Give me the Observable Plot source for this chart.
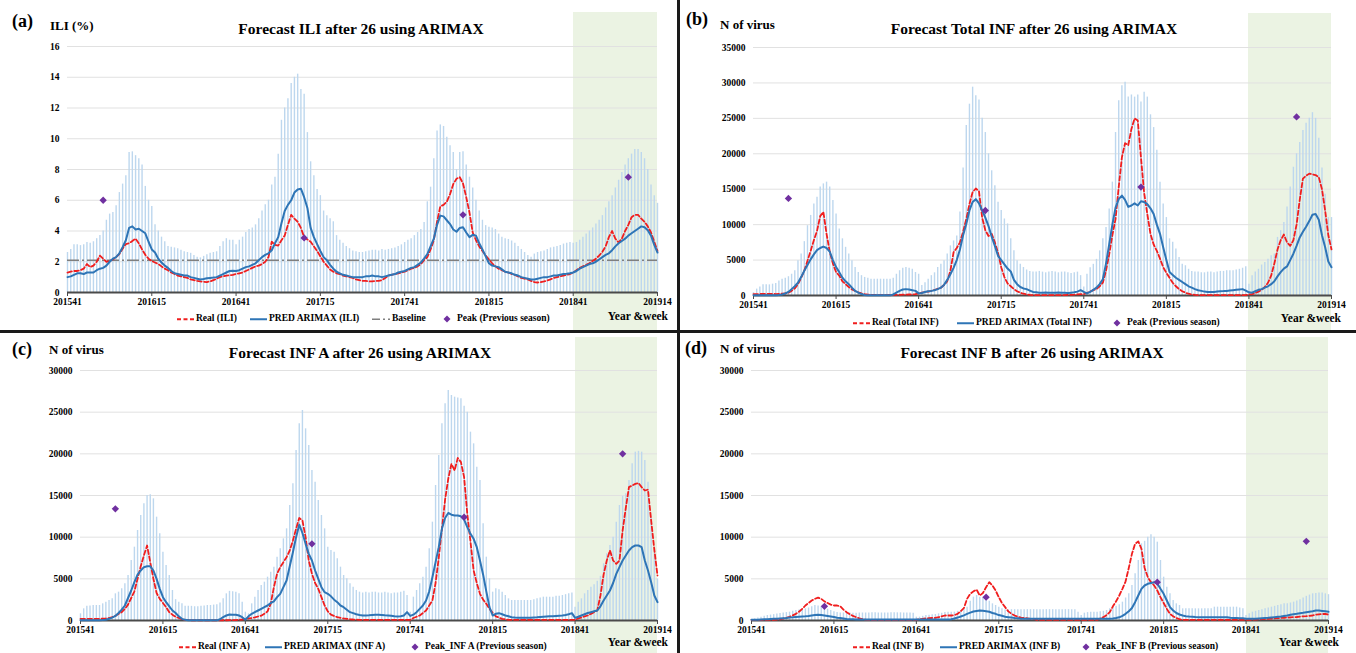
<!DOCTYPE html>
<html>
<head>
<meta charset="utf-8">
<script src="https://cdn.jsdelivr.net/npm/d3@7"></script>
<script src="https://cdn.jsdelivr.net/npm/@observablehq/plot@0.6"></script>
<style>
  body { margin: 0; background: #fff; }
  #root { position: relative; width: 1356px; height: 653px; overflow: hidden;
          font-family: "Liberation Serif", "Times New Roman", serif; font-weight: bold; color: #000; }
  .panel { position: absolute; overflow: hidden; }
  .panel svg.plotsvg { position: absolute; left: 0; top: 0; }
  .green { position: absolute; background: #ebf3e3; }
  .t { position: absolute; white-space: nowrap; line-height: 1; }
  .leg { position: absolute; display: flex; align-items: center; white-space: nowrap; line-height: 1; transform: translateY(-50%); }
  .leg svg { display: block; }
  .div-v { position: absolute; left: 677px; top: 0; width: 2.5px; height: 653px; background: #1a1a1a; }
  .div-h { position: absolute; left: 0; top: 330px; width: 1356px; height: 2.5px; background: #1a1a1a; }
</style>
</head>
<body>
<div id="root"></div>
<script>
// ---------- X axis (year & week), 183 weekly points ----------
const weekTicks = [0, 26, 52, 78, 104, 130, 156, 182];
const weekTickLabels = ["201541", "201615", "201641", "201715", "201741", "201815", "201841", "201914"];
const forecastStart = 156;   // 201841
const forecastEnd = 182;     // 201914

// ---------- (a) ILI (%) ----------
const realILI = [
1.3,1.35,1.4,1.4,1.45,1.55,1.85,1.65,1.75,2.0,
2.4,2.2,2.0,2.05,2.15,2.3,2.5,2.85,3.15,3.2,
3.35,3.5,3.2,2.8,2.45,2.2,2.05,1.95,1.85,1.7,
1.55,1.45,1.3,1.2,1.1,1.05,1.0,0.95,0.85,0.8,
0.75,0.72,0.7,0.68,0.72,0.8,0.9,1.0,1.05,1.1,
1.12,1.15,1.2,1.25,1.3,1.4,1.5,1.6,1.7,1.75,
1.85,2.0,2.3,3.3,3.1,3.05,3.4,3.7,4.4,5.05,
4.8,4.6,4.2,3.6,3.45,3.3,3.0,2.7,2.35,2.0,
1.75,1.5,1.35,1.25,1.2,1.1,1.05,1.0,0.95,0.85,
0.8,0.75,0.75,0.72,0.72,0.75,0.75,0.8,0.95,1.1,
1.15,1.2,1.25,1.3,1.35,1.45,1.55,1.6,1.7,1.85,
2.1,2.3,2.8,3.4,4.6,5.6,5.7,5.9,6.4,7.05,
7.4,7.5,7.1,6.2,5.2,3.9,3.4,3.0,2.7,2.4,
2.15,1.9,1.7,1.55,1.45,1.35,1.3,1.2,1.15,1.05,
0.95,0.9,0.85,0.75,0.68,0.65,0.68,0.72,0.78,0.85,
0.95,1.0,1.05,1.1,1.15,1.2,1.3,1.45,1.6,1.7,
1.8,1.9,2.05,2.2,2.4,2.65,3.0,3.6,4.0,3.5,
3.25,3.5,4.0,4.4,4.9,5.05,5.05,4.8,4.6,4.3,
3.9,3.3,2.7];
const predILI = [
1.0,1.05,1.15,1.25,1.25,1.2,1.3,1.3,1.3,1.45,
1.55,1.6,1.75,2.0,2.2,2.3,2.55,2.95,3.4,4.2,
4.3,4.1,4.15,4.0,3.85,3.3,2.8,2.6,2.2,1.95,
1.75,1.6,1.4,1.25,1.2,1.15,1.1,1.1,1.0,0.95,
0.9,0.85,0.88,0.92,0.95,0.97,1.0,1.1,1.2,1.3,
1.4,1.42,1.4,1.45,1.55,1.65,1.7,1.8,1.9,2.1,
2.3,2.45,2.55,2.75,3.2,3.6,4.5,5.3,5.7,6.0,
6.5,6.7,6.75,6.2,5.5,4.2,3.6,3.15,2.7,2.3,
2.1,1.8,1.55,1.35,1.25,1.15,1.1,1.05,1.0,1.0,
1.0,1.0,1.05,1.05,1.1,1.05,1.05,1.0,1.05,1.1,
1.15,1.2,1.3,1.35,1.4,1.5,1.6,1.65,1.8,1.95,
2.2,2.5,3.0,3.5,4.4,5.0,4.95,4.7,4.45,4.1,
3.95,4.2,4.25,3.9,3.6,3.75,3.7,3.2,2.8,2.35,
1.9,1.75,1.7,1.65,1.5,1.35,1.3,1.25,1.15,1.1,
1.0,0.95,0.9,0.85,0.85,0.9,0.95,1.0,1.0,1.05,
1.1,1.1,1.15,1.2,1.22,1.25,1.3,1.4,1.55,1.65,
1.75,1.85,1.9,2.0,2.15,2.3,2.45,2.55,2.75,3.0,
3.2,3.35,3.5,3.7,3.85,4.0,4.15,4.3,4.25,4.05,
3.7,3.1,2.6];
const upperILI = [
2.6,2.8,3.1,3.1,3.05,3.1,3.25,3.2,3.3,3.5,
3.7,4.0,4.7,5.1,5.2,5.65,6.5,7.05,7.6,9.1,
9.15,8.9,8.7,8.3,6.9,6.0,5.6,4.4,4.0,3.6,
3.3,3.0,2.95,2.9,2.85,2.75,2.65,2.6,2.55,2.4,
2.3,2.25,2.35,2.45,2.55,2.6,2.65,3.0,3.3,3.5,
3.4,3.4,3.1,3.4,3.6,3.9,4.1,4.2,4.4,4.8,
5.3,5.7,6.0,7.0,7.5,9.0,11.2,12.0,12.6,13.6,
14.0,14.2,13.2,12.9,10.4,8.5,7.6,6.7,6.3,5.3,
5.0,4.8,4.6,3.7,3.4,3.2,3.0,2.85,2.7,2.65,
2.6,2.6,2.65,2.7,2.75,2.75,2.7,2.8,2.75,2.8,
2.85,2.9,3.0,3.1,3.25,3.4,3.5,3.7,3.9,4.1,
4.55,5.9,6.85,8.7,10.5,10.9,10.8,10.1,9.55,9.1,
8.0,9.1,9.15,8.3,7.5,6.8,6.0,5.3,4.7,4.35,
4.25,4.2,4.1,3.8,3.6,3.5,3.45,3.35,3.2,3.0,
2.8,2.6,2.4,2.3,2.5,2.6,2.65,2.7,2.8,2.9,
2.95,3.0,3.05,3.15,3.2,3.25,3.2,3.25,3.4,3.6,
3.8,4.0,4.2,4.45,4.7,5.0,5.5,5.9,6.3,6.8,
7.3,7.8,8.3,8.7,9.0,9.3,9.3,9.1,8.7,8.0,
7.0,6.3,5.8];
const peakWeekILI = [11, 73, 122, 173];
const peakValILI = [6.0, 3.55, 5.05, 7.5];
const baselineILI = 2.1;

// ---------- (b) Total INF ----------
const realTotal = [
200,200,210,210,220,220,230,200,220,250,
280,400,650,1000,1600,2500,3500,4900,6300,7800,
9100,11200,11800,8700,6200,4500,3300,2800,2000,1600,
1200,850,650,450,300,180,120,100,80,70,
60,60,60,70,80,90,100,110,120,140,
160,180,300,400,480,560,650,780,950,1100,
1500,2000,3500,6100,6700,7500,9000,10800,12900,14600,
15100,14700,11000,9200,8400,8700,7500,6000,4000,2600,
1700,1300,900,600,400,250,150,80,60,50,
50,40,40,40,50,50,60,60,60,80,
100,120,150,180,200,350,550,750,900,1300,
1800,3500,5800,8500,10800,15300,19500,21500,21200,23500,
25000,24700,19500,14500,11500,8700,7200,6300,5200,4000,
3200,2500,1800,1300,900,600,400,250,150,80,
40,40,40,40,40,40,40,40,40,40,
40,40,40,40,40,60,150,200,350,550,
800,1200,1800,2800,4500,6500,7800,8600,7500,7000,
7800,10000,13500,16500,16900,17200,17100,17000,16700,15000,
12000,8500,6500];
const predTotal = [
50,50,50,50,50,50,50,50,80,150,
280,500,900,1300,1800,2600,3500,4300,5100,5800,
6400,6700,6900,6700,6200,5000,4000,3300,2500,2000,
1600,1100,650,400,200,80,40,20,20,20,
20,20,20,20,150,400,650,850,900,850,
750,650,300,350,500,600,650,750,900,1100,
1500,2200,3000,3900,5000,6500,8500,10100,12000,13200,
13600,13000,12000,11000,9800,8300,7000,5600,5000,4400,
3800,3400,2200,1600,1200,1000,900,700,500,450,
400,400,420,400,380,400,420,400,380,350,
400,450,550,750,500,300,500,800,1100,1600,
2300,4500,7200,10000,12400,13600,14100,13500,12500,12700,
13000,12700,13300,13200,12900,12300,11500,10000,8700,6800,
5000,3300,2900,2500,2200,1900,1600,1300,1100,900,
750,650,550,500,500,500,550,600,620,650,
700,750,800,850,900,700,450,400,600,800,
900,1100,1300,1600,2000,2700,3300,3800,4100,5000,
5900,7000,8200,9000,9700,10500,11400,11500,10700,8500,
6800,4800,4000];
const upperTotal = [
400,900,1200,1500,1500,1500,1600,1700,2050,2300,
2450,2650,3000,3500,4900,5850,7600,9850,11300,12900,
13850,15300,15750,16000,15300,13400,11500,9400,8000,6800,
5850,4900,3950,3250,2800,2550,2450,2300,2300,2300,
2300,2300,2300,2300,2450,3000,3500,3850,3950,3850,
3700,3250,3000,1400,1800,2300,2800,3200,3950,4400,
4900,5850,7000,7700,8400,11800,18000,24000,27000,29400,
28200,27600,25000,23000,20000,17600,15500,13150,12000,10800,
10100,8000,6300,4900,4400,3950,3600,3400,3300,3300,
3400,3300,3200,3300,3400,3300,3200,3300,3300,3200,
3100,3200,3300,2800,1200,3000,3900,4400,5100,6300,
8000,9600,12200,16000,23000,27500,29600,30100,28000,28300,
28000,28300,27300,28700,28000,25500,23700,20500,16000,12900,
11000,8000,7500,6550,5350,4400,4200,3700,3400,3300,
3300,3200,3200,3300,3300,3200,3300,3400,3400,3500,
3500,3500,3600,3700,3850,4050,1600,2800,3300,3700,
4300,4650,5100,5600,5850,8200,9150,10300,12500,15300,
18100,20000,21600,23300,24300,25000,25800,25000,22200,18000,
14300,11000,11000];
const peakWeekTotal = [11, 73, 122, 171];
const peakValTotal = [13700, 12000, 15300, 25200];

// ---------- (c) INF A ----------
const realA = [
200,200,200,200,200,200,200,220,250,300,
400,550,800,1000,1400,1900,2700,3500,5000,6500,
7800,9000,7000,5000,3300,2600,2100,1600,1000,700,
450,300,150,80,50,30,20,20,20,20,
20,20,20,20,20,30,30,40,40,50,
80,120,200,250,300,380,480,580,800,1100,
2000,4000,5600,6400,7000,7600,8400,9600,11000,12300,
12000,10000,7200,5600,4500,3800,2800,1800,1100,700,
550,400,320,250,200,150,120,100,80,80,
80,80,80,80,80,80,80,80,80,80,
80,80,80,80,80,300,450,600,900,1200,
1800,2400,4500,7500,11000,14500,17000,18800,18000,19500,
19000,17200,12800,9500,6000,4500,3200,2500,2000,1400,
900,500,350,200,150,80,80,80,80,80,
80,80,80,80,80,80,80,80,80,80,
80,80,80,80,80,80,80,250,350,500,
600,800,1000,1200,3000,5500,7200,8400,7200,6800,
7200,10800,13500,16000,16200,16400,16500,16000,15600,15700,
12000,8500,5400];
const predA = [
20,20,20,20,20,20,30,50,100,200,
350,550,900,1300,1800,2700,3600,4600,5500,6000,
6400,6500,6500,6000,5000,3800,2800,2200,1700,1200,
900,500,200,80,20,20,20,20,20,20,
20,20,20,20,150,400,600,720,700,680,
600,400,100,500,800,1000,1200,1400,1600,1800,
2100,2300,2800,3200,4000,4800,6500,8200,10000,11500,
10500,9200,8000,7200,6000,5000,4000,3400,3200,2900,
2500,2200,1800,1600,1300,1000,880,750,650,600,
600,620,650,680,680,650,620,600,580,500,
480,500,600,1000,550,700,1000,1400,1800,2400,
3500,5200,7000,8800,11000,12300,12900,12700,12600,12600,
12500,12100,11200,10400,9800,8800,7200,5500,3500,1600,
600,800,880,750,600,500,400,350,320,320,
320,320,320,350,380,420,450,480,500,520,
550,580,600,650,750,880,320,450,600,750,
900,1000,1100,1200,1700,2400,3000,3600,4500,5600,
6400,7200,7800,8400,8800,9000,9000,8800,7200,6000,
4600,3000,2200];
const upperA = [
800,1400,1700,1750,1800,1800,1800,2000,2200,2400,
2600,3200,3400,3800,4400,5400,7200,8800,10800,12600,
14000,15000,15100,14600,12400,10400,8200,6600,5400,3600,
2500,2200,2000,1700,1700,1700,1650,1650,1700,1750,
1800,1800,1850,1900,2100,2600,3200,3500,3450,3400,
3200,2200,1000,800,2000,2800,3600,4200,4600,5200,
5800,6400,7600,8600,9800,11000,13800,16400,20400,23600,
25200,23000,21000,18000,16600,14400,12600,11000,8800,8400,
8200,7400,6400,5400,5000,4400,4000,3600,3400,3300,
3400,3300,3400,3400,3300,3300,3400,3300,3200,3300,
3300,3400,3500,3000,1000,2800,3600,4400,5200,6400,
8600,11800,16200,19800,23600,26000,27600,27000,26800,26700,
26600,25700,25000,22600,21200,18400,16800,11600,7600,5000,
3400,3800,3700,3400,3000,2600,2400,2400,2400,2400,
2400,2400,2400,2500,2600,2700,2800,2800,2800,2800,
2900,2900,3000,3100,3200,3300,1600,2200,2600,3200,
3600,4000,4300,4700,5300,6800,8000,9000,10000,11800,
13800,14900,15200,16800,18800,20200,20300,20200,19200,16600,
12400,8400,5000];
const peakWeekA = [11, 73, 121, 171];
const peakValA = [13400, 9200, 12400, 20000];

// ---------- (d) INF B ----------
const realB = [
80,80,80,80,80,80,80,80,100,150,
220,320,450,600,800,1050,1400,1800,2100,2400,
2600,2750,2600,2300,2100,1900,1800,1800,1700,1300,
1000,750,550,400,250,150,100,80,80,80,
80,80,80,80,80,80,80,80,80,80,
80,80,80,150,200,250,280,300,320,400,
500,600,600,600,650,800,1100,1500,2600,3200,
3500,3700,3000,3300,4000,4600,4200,3600,2800,2100,
1600,1100,800,600,450,350,300,250,200,180,
80,80,80,80,80,80,80,80,80,80,
80,80,80,80,80,80,80,80,80,80,
250,400,650,1000,1700,2300,3000,3800,4700,6300,
8000,9200,9500,8600,6300,5200,4600,4200,3600,2800,
2100,1400,800,500,300,150,80,80,80,80,
80,80,80,80,80,80,80,80,80,80,
80,80,80,80,80,80,80,80,100,120,
140,160,180,200,220,250,280,310,330,350,
380,400,420,470,500,520,560,600,700,740,
780,780,700];
const predB = [
80,90,100,120,140,160,180,200,220,250,
280,300,350,380,420,450,480,500,540,600,
660,680,650,600,540,480,420,340,300,250,
180,150,140,120,120,120,120,120,120,120,
120,120,120,120,120,120,120,120,120,120,
120,120,120,120,120,120,120,120,120,120,
120,120,120,150,240,350,480,620,800,950,
1080,1150,1200,1180,1120,1050,900,800,650,560,
450,400,350,300,260,200,200,200,200,200,
200,200,200,200,200,200,200,200,200,200,
200,200,200,200,200,200,200,200,200,200,
200,200,200,220,250,300,380,550,800,1100,
1500,2200,3000,3800,4200,4400,4500,4600,4450,3800,
3200,2400,1600,1200,900,720,600,520,480,450,
420,400,400,400,400,400,400,400,400,400,
380,330,300,300,280,280,220,200,200,220,
250,280,300,320,360,400,440,480,540,600,
680,760,800,860,920,1000,1060,1120,1200,1200,
1150,1100,1050];
const upperB = [
100,200,300,400,500,600,650,700,780,850,
900,950,1000,1100,1200,1250,1300,1400,1500,1650,
1800,1750,1650,1500,1350,1200,1050,950,900,900,
900,900,880,880,900,900,900,900,920,920,
900,900,900,900,920,920,920,920,900,900,
900,880,400,400,500,600,620,680,720,800,
880,950,1000,1000,1000,1100,1200,1400,1600,2300,
2800,3000,2800,2800,2600,2300,2000,1800,1600,1400,
1300,1250,1300,1300,1300,1300,1300,1300,1300,1300,
1300,1300,1300,1300,1300,1300,1300,1300,1300,1300,
1300,1300,1300,1000,600,880,950,1000,1000,1000,
1050,1100,1200,1400,1600,1700,1900,2200,2700,3200,
4200,5600,7200,9200,9500,10000,10300,10000,9400,7200,
5200,4000,3200,2400,2000,1800,1400,1400,1400,1400,
1400,1400,1400,1400,1400,1400,1600,1600,1600,1600,
1600,1600,1600,1600,1500,1400,600,800,1000,1100,
1200,1300,1400,1500,1600,1700,1800,1900,2000,2000,
2100,2200,2350,2500,2700,2900,3050,3200,3250,3300,
3300,3200,3100];
const peakWeekB = [23, 74, 128, 175];
const peakValB = [1700, 2800, 4600, 9500];

// ---------- styling / layout ----------
const C = {
  real: "#f01e1e", pred: "#2e75b6", bar: "#bdd7ee", base: "#7f7f7f",
  peak: "#7030a0", grid: "#e1e1e1", axis: "#4a4a4a"
};
const FONT = '"Liberation Serif", "Times New Roman", serif';

const panels = [
  { key: "(a)", left: 0, top: 0, w: 677, h: 330, ml: 67, mr: 20, mt: 46, mb: 38,
    ymax: 16, ystep: 2, real: realILI, pred: predILI, upper: upperILI,
    peakW: peakWeekILI, peakV: peakValILI, baseline: baselineILI,
    yTitle: "ILI (%)", title: "Forecast ILI after 26 using ARIMAX",
    lab: [12, 21], yt: [50, 25], tt: [361, 29], greenTop: 12,
    legY: 319, legend: [["real", 177, "Real (ILI)"], ["pred", 250, "PRED ARIMAX (ILI)"],
                         ["base", 372, "Baseline"], ["peak", 442, "Peak (Previous season)"]],
    yw: [668, 317] },
  { key: "(b)", left: 679, top: 0, w: 677, h: 330, ml: 74, mr: 25, mt: 47, mb: 35,
    ymax: 35000, ystep: 5000, real: realTotal, pred: predTotal, upper: upperTotal,
    peakW: peakWeekTotal, peakV: peakValTotal, baseline: null,
    yTitle: "N of virus", title: "Forecast Total INF after 26 using ARIMAX",
    lab: [7, 19], yt: [41, 24], tt: [355, 29], greenTop: 13,
    legY: 323, legend: [["real", 174, "Real (Total INF)"], ["pred", 278, "PRED ARIMAX (Total INF)"],
                         ["peak", 433, "Peak (Previous season)"]],
    yw: [662, 319] },
  { key: "(c)", left: 0, top: 333, w: 677, h: 320, ml: 80, mr: 20, mt: 37, mb: 33,
    ymax: 30000, ystep: 5000, real: realA, pred: predA, upper: upperA,
    peakW: peakWeekA, peakV: peakValA, baseline: null,
    yTitle: "N of virus", title: "Forecast INF A after 26 using ARIMAX",
    lab: [12, 16], yt: [49, 16], tt: [360, 20], greenTop: 4,
    legY: 314, legend: [["real", 179, "Real (INF A)"], ["pred", 265, "PRED ARIMAX (INF A)"],
                         ["peak", 410, "Peak_INF A (Previous season)"]],
    yw: [668, 310] },
  { key: "(d)", left: 679, top: 333, w: 677, h: 320, ml: 72, mr: 28, mt: 37, mb: 33,
    ymax: 30000, ystep: 5000, real: realB, pred: predB, upper: upperB,
    peakW: peakWeekB, peakV: peakValB, baseline: null,
    yTitle: "N of virus", title: "Forecast INF B after 26 using ARIMAX",
    lab: [6, 15], yt: [41, 15], tt: [353, 20], greenTop: 4,
    legY: 314, legend: [["real", 174, "Real (INF B)"], ["pred", 261, "PRED ARIMAX (INF B)"],
                         ["peak", 402, "Peak_INF B (Previous season)"]],
    yw: [660, 310] }
];

const root = document.getElementById("root");
const problems = [];

function addText(parent, txt, x, y, size, anchor) {
  const el = document.createElement("div");
  el.className = "t";
  el.textContent = txt;
  el.style.left = x + "px";
  el.style.top = y + "px";
  el.style.fontSize = size + "px";
  el.style.transform = anchor === "middle" ? "translate(-50%,-50%)"
                     : anchor === "end" ? "translate(-100%,-50%)" : "translate(0,-50%)";
  parent.appendChild(el);
  return el;
}

function swatch(kind) {
  const ns = "http://www.w3.org/2000/svg";
  const s = document.createElementNS(ns, "svg");
  if (kind === "peak") {
    s.setAttribute("width", 10); s.setAttribute("height", 10);
    const p = document.createElementNS(ns, "path");
    p.setAttribute("d", "M5,1.5L8.5,5L5,8.5L1.5,5Z");
    p.setAttribute("fill", C.peak);
    s.appendChild(p);
    s.style.marginRight = "5px";
  } else {
    const w = kind === "base" ? 18 : 17;
    s.setAttribute("width", w); s.setAttribute("height", 8);
    const l = document.createElementNS(ns, "line");
    l.setAttribute("x1", 0); l.setAttribute("x2", w); l.setAttribute("y1", 4); l.setAttribute("y2", 4);
    if (kind === "real") { l.setAttribute("stroke", C.real); l.setAttribute("stroke-width", 1.8); l.setAttribute("stroke-dasharray", "4,2.5"); }
    if (kind === "pred") { l.setAttribute("stroke", C.pred); l.setAttribute("stroke-width", 2); }
    if (kind === "base") { l.setAttribute("stroke", C.base); l.setAttribute("stroke-width", 1.6); l.setAttribute("stroke-dasharray", "8,3,2,3"); }
    s.appendChild(l);
    s.style.marginRight = "2px";
  }
  return s;
}

for (const P of panels) {
  if (P.real.length !== 183 || P.pred.length !== 183 || P.upper.length !== 183)
    problems.push(P.key + " lengths " + P.real.length + "/" + P.pred.length + "/" + P.upper.length);

  const div = document.createElement("div");
  div.className = "panel";
  Object.assign(div.style, { left: P.left + "px", top: P.top + "px", width: P.w + "px", height: P.h + "px" });
  root.appendChild(div);

  const rows = P.real.map((v, i) => ({ i, real: v, pred: P.pred[i], upper: P.upper[i] }));
  const peaks = P.peakW.map((w, k) => ({ i: w, v: P.peakV[k] }));
  const yTicks = d3.range(0, P.ymax + P.ystep / 2, P.ystep);

  const marks = [
    Plot.gridY(yTicks, { stroke: C.grid, strokeOpacity: 1, strokeWidth: 1 }),
    Plot.ruleX(rows, { x: "i", y1: 0, y2: "upper", stroke: C.bar, strokeWidth: 1.4 }),
    Plot.axisY(yTicks, { tickSize: 0, tickPadding: 8, label: null, tickFormat: (d) => String(d),
      fontSize: 9.5, fontWeight: "bold", fontFamily: FONT, fill: "#000" }),
    Plot.axisX(weekTicks, { tickSize: 4, tickPadding: 2, label: null, stroke: C.axis,
      tickFormat: (d) => weekTickLabels[weekTicks.indexOf(d)],
      fontSize: 9.5, fontWeight: "bold", fontFamily: FONT, fill: "#000" }),
    Plot.ruleY([0], { stroke: C.axis, strokeWidth: 2.2 })
  ];
  if (P.baseline != null) {
    marks.push(Plot.ruleY([P.baseline], { x1: 0, x2: 182, stroke: C.base, strokeWidth: 1.6, strokeDasharray: "12,3,2,3" }));
  }
  marks.push(
    Plot.line(rows, { x: "i", y: "real", stroke: C.real, strokeWidth: 1.8, strokeDasharray: "4.5,2.5" }),
    Plot.line(rows, { x: "i", y: "pred", stroke: C.pred, strokeWidth: 2 }),
    Plot.dot(peaks, { x: "i", y: "v", symbol: "diamond2", fill: C.peak, stroke: null, r: 3.3 })
  );

  const svg = Plot.plot({
    width: P.w, height: P.h,
    marginLeft: P.ml, marginRight: P.mr, marginTop: P.mt, marginBottom: P.mb,
    style: { background: "transparent", fontFamily: FONT, fontWeight: "bold", color: "#000" },
    x: { domain: [0, 182], label: null },
    y: { domain: [0, P.ymax], label: null },
    marks
  });
  svg.classList.add("plotsvg");

  // forecast window (201841–201914), positioned from the x scale
  const xs = svg.scale("x");
  const g = document.createElement("div");
  g.className = "green";
  const gx1 = xs.apply(forecastStart), gx2 = xs.apply(forecastEnd);
  Object.assign(g.style, { left: gx1 + "px", width: (gx2 - gx1) + "px", top: P.greenTop + "px", height: (P.h - P.greenTop) + "px" });
  div.appendChild(g);
  div.appendChild(svg);

  addText(div, P.key, P.lab[0], P.lab[1], 18, "start");
  addText(div, P.yTitle, P.yt[0], P.yt[1], 13, "start");
  addText(div, P.title, P.tt[0], P.tt[1], 15.5, "middle");
  addText(div, "Year &week", P.yw[0], P.yw[1], 11.5, "end");

  for (const [kind, x, label] of P.legend) {
    const it = document.createElement("div");
    it.className = "leg";
    it.style.left = x + "px";
    it.style.top = P.legY + "px";
    it.style.fontSize = "9.5px";
    it.appendChild(swatch(kind));
    const sp = document.createElement("span");
    sp.textContent = label;
    it.appendChild(sp);
    div.appendChild(it);
  }
}

const dv = document.createElement("div"); dv.className = "div-v"; root.appendChild(dv);
const dh = document.createElement("div"); dh.className = "div-h"; root.appendChild(dh);

if (problems.length) setTimeout(() => { throw new Error(problems.join("; ")); }, 0);
</script>
</body>
</html>
